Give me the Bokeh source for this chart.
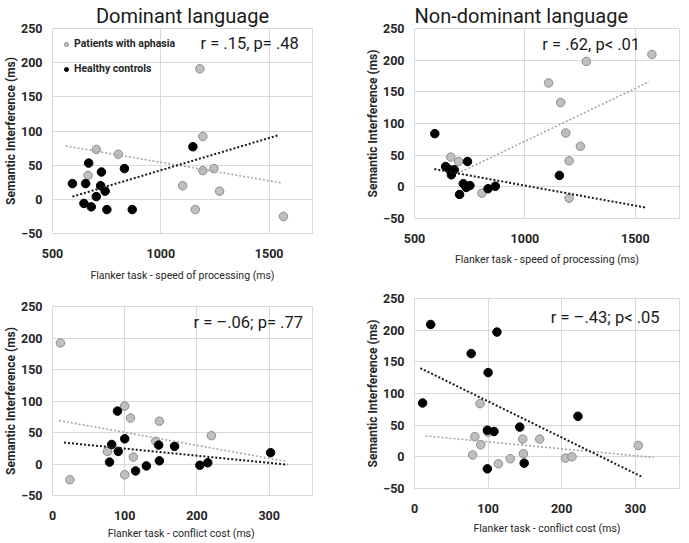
from bokeh.plotting import figure
from bokeh.layouts import row, column
from bokeh.models import Range1d, FixedTicker, Label, Legend, LegendItem, Title
from bokeh.embed import file_html
from bokeh.resources import INLINE

FONT = "Roboto"

# ---------------- data ----------------
# Panel 1: Dominant language, speed of processing
p1_gray_x = [702, 804, 664, 1180, 1194, 1194, 1245, 1101, 1271, 1159, 1566]
p1_gray_y = [73, 66, 35, 191, 92, 42, 45, 20, 12, -15, -25]
p1_black_x = [592, 653, 667, 726, 722, 743, 702, 645, 679, 751, 868, 832, 1148]
p1_black_y = [23, 23, 53, 40, 20, 12, 4, -6, -11, -15, -15, 45, 77]
p1_gray_trend_x = [561, 1558]
p1_gray_trend_y = [78, 24]
p1_black_trend_x = [592, 1544]
p1_black_trend_y = [4, 94]

# Panel 2: Non-dominant language, speed of processing
p2_gray_x = [664, 700, 805, 1107, 1162, 1185, 1251, 1200, 1200, 1278, 1575]
p2_gray_y = [47, 40, -10, 164, 133, 85, 64, 41, -18, 198, 209]
p2_black_x = [592, 641, 659, 680, 667, 740, 721, 734, 704, 751, 833, 866, 1156]
p2_black_y = [84, 32, 27, 27, 19, 40, 5, -1, -12, 2, -3, 1, 18]
p2_gray_trend_x = [695, 1563]
p2_gray_trend_y = [21, 166]
p2_black_trend_x = [590, 1551]
p2_black_trend_y = [28, -33]

# Panel 3: Dominant language, conflict cost
p3_gray_x = [11, 24, 100, 108, 148, 143, 76, 112, 100, 220]
p3_gray_y = [192, -25, 92, 73, 68, 36, 20, 11, -17, 45]
p3_black_x = [90, 82, 91, 100, 79, 115, 130, 147, 148, 169, 204, 215, 302]
p3_black_y = [84, 31, 20, 40, 3, -11, -3, 30, 5, 28, -2, 2, 18]
p3_gray_trend_x = [9, 324]
p3_gray_trend_y = [69, 4]
p3_black_trend_x = [16, 325]
p3_black_trend_y = [34, -1]

# Panel 4: Non-dominant language, conflict cost
p4_gray_x = [89, 82, 90, 100, 79, 114, 130, 147, 148, 170, 205, 214, 304]
p4_gray_y = [84, 32, 19, 39, 3, -11, -3, 28, 5, 28, -2, 0, 18]
p4_black_x = [22, 112, 77, 100, 11, 222, 99, 108, 143, 99, 149]
p4_black_y = [209, 197, 163, 133, 85, 64, 42, 40, 47, -19, -10]
p4_gray_trend_x = [15, 325]
p4_gray_trend_y = [33, -1]
p4_black_trend_x = [8, 308]
p4_black_trend_y = [140, -31]

y_ticks = [-50, 0, 50, 100, 150, 200, 250]
speed_ticks = [500, 1000, 1500]
cost_ticks = [0, 100, 200, 300]

titles = ["Dominant language", "Non-dominant language"]
stats = ["r = .15, p= .48", "r = .62, p< .01", "r = \u2013.06; p= .77", "r = \u2013.43; p< .05"]
x_labels = ["Flanker task - speed of processing (ms)", "Flanker task - speed of processing (ms)",
            "Flanker task -  conflict cost (ms)", "Flanker task - conflict cost (ms)"]
y_label = "Semantic Interference (ms)"
legend_labels = ["Patients with aphasia", "Healthy controls"]

GRAY_FILL = "#bfbfbf"
GRAY_LINE = "#8c8c8c"
GRID = "#d9d9d9"


def make(width, height, xr, xticks, gx, gy, bx, by, gtx, gty, btx, bty,
         stat, stat_x, stat_y, xlabel, title=None, title_align="center",
         mbl=43, mbr=30, mbt=18, xlab_standoff=10, legend=False):
    p = figure(width=width, height=height, output_backend="svg", toolbar_location=None,
               x_range=Range1d(*xr), y_range=Range1d(-50, 250),
               min_border_left=mbl, min_border_right=mbr, min_border_top=mbt,
               min_border_bottom=0)
    if title:
        p.title.text = title
        p.title.align = title_align
        p.title.text_font = FONT
        p.title.text_font_size = "20px"
        p.title.text_font_style = "normal"
        p.title.text_color = "#1a1a1a"
        p.title.standoff = 2
    p.background_fill_color = "white"
    p.border_fill_color = "white"
    p.outline_line_color = GRID
    p.outline_line_width = 1
    for ax in (p.xaxis, p.yaxis):
        ax.axis_line_color = None
        ax.major_tick_line_color = None
        ax.minor_tick_line_color = None
        ax.major_label_text_font = FONT
        ax.major_label_text_font_size = "12.5px"
        ax.major_label_text_font_style = "bold"
        ax.major_label_text_color = "#262626"
    p.xaxis.ticker = FixedTicker(ticks=xticks)
    p.yaxis.ticker = FixedTicker(ticks=y_ticks)
    p.xaxis.major_label_standoff = 9
    p.yaxis.major_label_standoff = 4
    p.yaxis.axis_label = y_label
    p.yaxis.axis_label_text_font = FONT
    p.yaxis.axis_label_text_color = "#262626"
    p.yaxis.axis_label_text_font_size = "12px"
    p.yaxis.axis_label_text_font_style = "bold"
    p.yaxis.axis_label_standoff = 0
    p.add_layout(Title(text=xlabel, align="center", text_font=FONT, text_font_size="10.5px",
                       text_font_style="normal", text_color="#262626",
                       standoff=xlab_standoff), "below")
    p.xgrid.grid_line_color = GRID
    p.ygrid.grid_line_color = GRID

    rg = p.scatter(gx, gy, size=8.5, fill_color=GRAY_FILL, line_color=GRAY_LINE, line_width=1)
    rb = p.scatter(bx, by, size=8.5, fill_color="black", line_color="black", line_width=1)
    p.line(gtx, gty, line_color="#a6a6a6", line_width=1.6, line_dash="2 2")
    p.line(btx, bty, line_color="#1a1a1a", line_width=2, line_dash="2 2")

    p.add_layout(Label(x=stat_x, y=stat_y, text=stat, text_align="center", text_baseline="middle",
                       text_font=FONT, text_font_size="16.5px", text_color="#1a1a1a"))
    if legend:
        lg = Legend(items=[LegendItem(label=legend_labels[0], renderers=[rg]),
                           LegendItem(label=legend_labels[1], renderers=[rb])],
                    location="top_left", background_fill_alpha=0, border_line_alpha=0,
                    label_text_font=FONT, label_text_font_size="10.5px",
                    label_text_font_style="bold", label_text_color="#262626",
                    glyph_width=14, glyph_height=10, spacing=8, margin=4, padding=3,
                    label_standoff=1, label_height=17)
        p.add_layout(lg)
    return p


p1 = make(344, 287, (500, 1700), speed_ticks, p1_gray_x, p1_gray_y, p1_black_x, p1_black_y,
          p1_gray_trend_x, p1_gray_trend_y, p1_black_trend_x, p1_black_trend_y,
          stats[0], 1410, 228, x_labels[0], title=titles[0], mbl=51, mbr=32, mbt=0,
          xlab_standoff=12, legend=True)
p3 = make(344, 255, (0, 360), cost_ticks, p3_gray_x, p3_gray_y, p3_black_x, p3_black_y,
          p3_gray_trend_x, p3_gray_trend_y, p3_black_trend_x, p3_black_trend_y,
          stats[2], 271, 224, x_labels[2], mbl=52, mbr=26, mbt=19, xlab_standoff=5)
p2 = make(345, 270, (500, 1700), speed_ticks, p2_gray_x, p2_gray_y, p2_black_x, p2_black_y,
          p2_gray_trend_x, p2_gray_trend_y, p2_black_trend_x, p2_black_trend_y,
          stats[1], 1300, 225, x_labels[1], title=titles[1], title_align="left",
          mbl=70, mbr=10, mbt=0, xlab_standoff=10)
p4 = make(345, 268, (0, 360), cost_ticks, p4_gray_x, p4_gray_y, p4_black_x, p4_black_y,
          p4_gray_trend_x, p4_gray_trend_y, p4_black_trend_x, p4_black_trend_y,
          stats[3], 259, 220, x_labels[3], mbl=68, mbr=0, mbt=28, xlab_standoff=8)

layout = row(column(p1, p3, spacing=0), column(p2, p4, spacing=0), spacing=0)

open("out.html", "w").write(file_html(layout, INLINE))
